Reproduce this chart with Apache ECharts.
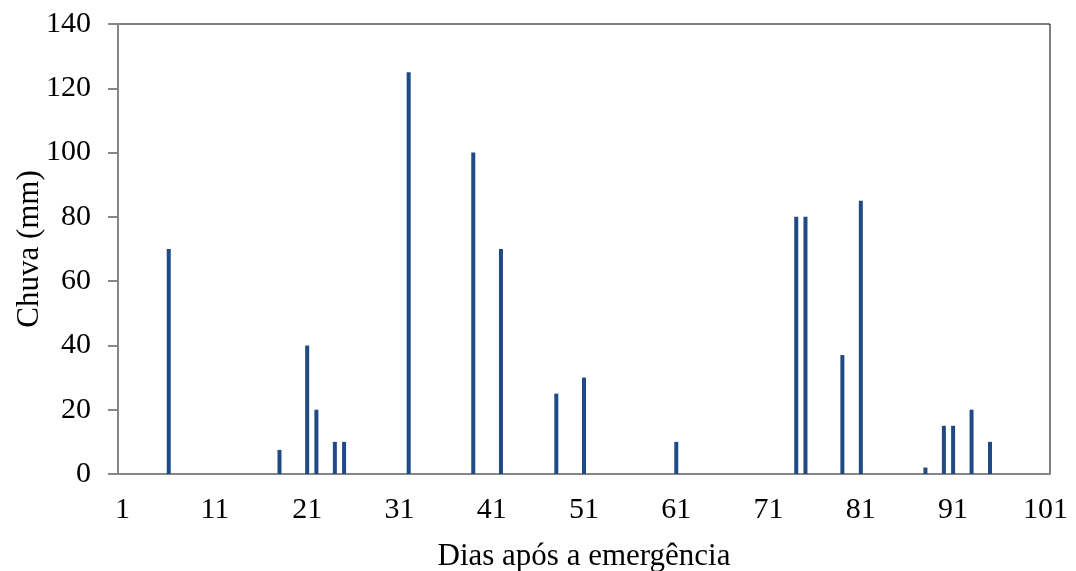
<!DOCTYPE html>
<html>
<head>
<meta charset="utf-8">
<script src="https://cdn.jsdelivr.net/npm/echarts@6/dist/echarts.min.js"></script>
<style>
  html, body { margin: 0; padding: 0; background: #fff; }
  #chart { width: 1076px; height: 571px; }
</style>
</head>
<body>
<div id="chart"></div>
<script>
// dias com chuva e lâmina (mm)
var rainDays = [6, 18, 21, 22, 24, 25, 32, 39, 42, 48, 51, 61, 74, 75, 79, 81, 88, 90, 91, 93, 95];
var rainMm   = [70, 7.5, 40, 20, 10, 10, 125, 100, 70, 25, 30, 10, 80, 80, 37, 85, 2, 15, 15, 20, 10];
var firstDay = 1, lastDay = 101;
var yMax = 140, yStep = 20;

// categorias do eixo x: 1..101
var days = [];
for (var d = firstDay; d <= lastDay; d++) days.push(String(d));

var font = '"Liberation Serif", "Times New Roman", serif';
var myChart = echarts.init(document.getElementById('chart'));
myChart.setOption({
  animation: false,
  textStyle: { fontFamily: font },
  grid: {
    left: 118, right: 26, top: 24, bottom: 97,
    outerBoundsMode: 'none',
    containLabel: false,
    show: true, borderColor: '#000', borderWidth: 1
  },
  xAxis: {
    type: 'category',
    data: days,
    boundaryGap: true,
    name: 'Dias após a emergência',
    nameLocation: 'middle',
    nameGap: 67,
    nameTextStyle: { fontSize: 31, color: '#000', fontFamily: font },
    axisLine: { lineStyle: { color: '#868686', width: 2 } },
    axisTick: { interval: 3, length: 7, lineStyle: { color: '#868686', width: 2 } },
    axisLabel: { interval: 9, margin: 21, fontSize: 30, color: '#000', fontFamily: font },
    splitLine: { show: false }
  },
  yAxis: {
    type: 'value',
    min: 0, max: yMax, interval: yStep,
    name: 'Chuva (mm)',
    nameLocation: 'middle',
    nameRotate: 90,
    nameGap: 73,
    nameMoveOverlap: false,
    nameTextStyle: { fontSize: 31, color: '#000', fontFamily: font },
    axisLine: { show: true, lineStyle: { color: '#868686', width: 2 } },
    axisTick: { show: true, length: 10, lineStyle: { color: '#868686', width: 2 } },
    axisLabel: { margin: 27, fontSize: 30, color: '#000', fontFamily: font },
    splitLine: { show: false }
  },
  series: [{
    type: 'bar',
    barWidth: 4,
    itemStyle: { color: '#1f4a85' },
    data: rainDays.map(function (d, i) { return [String(d), rainMm[i]]; })
  }]
});
window.addEventListener('resize', function () { myChart.resize(); });
</script>
</body>
</html>
